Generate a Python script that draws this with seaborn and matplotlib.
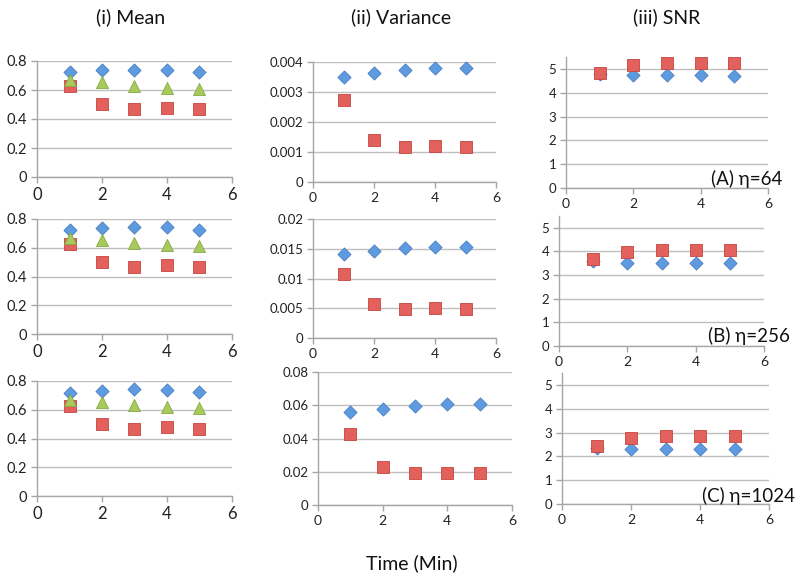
import numpy as np
import pandas as pd
import seaborn as sns
import matplotlib.pyplot as plt

# Data (time in minutes, 3 rows: eta = 64, 256, 1024)
time_min = [1, 2, 3, 4, 5]
row_labels = ["(A) η=64", "(B) η=256", "(C) η=1024"]
col_titles = ["(i) Mean", "(ii) Variance", "(iii) SNR"]

mean_blue = [[0.724, 0.735, 0.740, 0.740, 0.724],
             [0.722, 0.736, 0.741, 0.741, 0.724],
             [0.715, 0.733, 0.741, 0.738, 0.724]]
mean_green = [[0.670, 0.652, 0.631, 0.617, 0.610],
              [0.668, 0.652, 0.632, 0.618, 0.612],
              [0.668, 0.652, 0.633, 0.618, 0.612]]
mean_red = [[0.629, 0.502, 0.467, 0.479, 0.467],
            [0.628, 0.502, 0.468, 0.480, 0.468],
            [0.628, 0.500, 0.468, 0.479, 0.468]]

var_blue = [[0.00349, 0.00362, 0.00373, 0.00380, 0.00380],
            [0.0141, 0.0147, 0.0151, 0.0153, 0.0153],
            [0.0558, 0.0576, 0.0596, 0.0608, 0.0608]]
var_red = [[0.00272, 0.00141, 0.00117, 0.00121, 0.00117],
           [0.0107, 0.0057, 0.0048, 0.0050, 0.0048],
           [0.0430, 0.0226, 0.0190, 0.0194, 0.0190]]

snr_blue = [[4.78, 4.75, 4.74, 4.74, 4.69],
            [3.58, 3.53, 3.53, 3.50, 3.50],
            [2.36, 2.31, 2.32, 2.31, 2.31]]
snr_red = [[4.83, 5.18, 5.24, 5.24, 5.24],
           [3.69, 3.98, 4.05, 4.05, 4.05],
           [2.44, 2.79, 2.86, 2.86, 2.86]]

# y axis setups per column / row
mean_ylim = (0, 0.8, 0.2)
var_ylims = [(0, 0.004, 0.001), (0, 0.02, 0.005), (0, 0.08, 0.02)]
snr_ylim = (0, 5.5, 1)

palette = {"blue": "#5d9ae0", "red": "#e3615c", "green": "#a8c95c"}
edges = {"blue": "#4a7fc0", "red": "#c4453f", "green": "#86a840"}
markers = {"blue": "D", "red": "s", "green": "^"}
sizes = {"blue": 45, "red": 80, "green": 75}

# panel boxes in pixels: (left, right, top, bottom)
W, H = 800, 579
boxes = [
    [(37, 232, 61, 177), (313, 496, 62, 182), (566, 768, 57, 188)],
    [(37, 232, 219, 334), (313, 496, 219, 338), (559, 764, 216, 346)],
    [(37, 232, 381, 496), (318, 512, 372, 505), (562, 769, 373, 504)],
]
# eta labels: (x, baseline y, alignment) in pixels
label_pos = [(782, 185, "right"), (790, 342, "right"), (702, 502, "left")]

sns.set_theme(style="white")
plt.rcParams["font.family"] = ["Lato", "DejaVu Sans"]

fig = plt.figure(figsize=(8, 5.79), dpi=100)


def make_df(series):
    rows = []
    for name, vals in series:
        for t, v in zip(time_min, vals):
            rows.append({"time": t, "value": v, "series": name})
    return pd.DataFrame(rows)


def style_axis(ax, ylo, yhi, ystep, xfs, yfs):
    ax.set_xlim(0, 6)
    ax.set_ylim(ylo, yhi)
    ax.set_xticks([0, 2, 4, 6])
    yt = np.arange(ylo, yhi + 1e-12, ystep)
    ax.set_yticks(yt)
    ax.set_yticklabels([f"{v:g}" for v in yt])
    for s in ["top", "right"]:
        ax.spines[s].set_visible(False)
    for s in ["left", "bottom"]:
        ax.spines[s].set_color("#a6a6a6")
        ax.spines[s].set_linewidth(1.0)
    ax.grid(axis="y", color="#bfbfbf", linewidth=1.0)
    ax.set_axisbelow(True)
    ax.tick_params(axis="x", direction="out", length=4, width=1, color="#a6a6a6",
                   labelsize=xfs, pad=3, labelcolor="#222222", bottom=True)
    ax.tick_params(axis="y", direction="out", length=4, width=1, color="#a6a6a6",
                   labelsize=yfs, pad=3, labelcolor="#222222", left=True)
    ax.set_xlabel("")
    ax.set_ylabel("")


for r in range(3):
    panels = [
        ([("blue", mean_blue[r]), ("red", mean_red[r]), ("green", mean_green[r])],
         mean_ylim, 12, 10.5),
        ([("blue", var_blue[r]), ("red", var_red[r])], var_ylims[r], 10, 9.5),
        ([("blue", snr_blue[r]), ("red", snr_red[r])], snr_ylim, 10, 9.5),
    ]
    for c, (series, (ylo, yhi, ystep), xfs, yfs) in enumerate(panels):
        left, right, top, bottom = boxes[r][c]
        ax = fig.add_axes([left / W, 1 - bottom / H, (right - left) / W, (bottom - top) / H])
        df = make_df(series)
        for name, _ in series:
            sub = df[df["series"] == name]
            sns.scatterplot(data=sub, x="time", y="value", ax=ax, marker=markers[name],
                            s=sizes[name], color=palette[name], edgecolor=edges[name],
                            linewidth=0.6, legend=False, clip_on=False, zorder=3)
        yhi_ticks = 5 if c == 2 else yhi
        style_axis(ax, ylo, yhi_ticks, ystep, xfs, yfs)
        ax.set_ylim(ylo, yhi)

    lx, ly, ha = label_pos[r]
    fig.text(lx / W, 1 - ly / H, row_labels[r], ha=ha, va="baseline", fontsize=13.5,
             color="#111111")

# column titles and shared x label
for x, t in zip([131, 401, 667], col_titles):
    fig.text(x / W, 1 - 17 / H, t, ha="center", va="center", fontsize=14, color="#111111")
fig.text(412 / W, 1 - 563 / H, "Time (Min)", ha="center", va="center", fontsize=14,
         color="#111111")

fig.savefig("out.png", dpi=100)
